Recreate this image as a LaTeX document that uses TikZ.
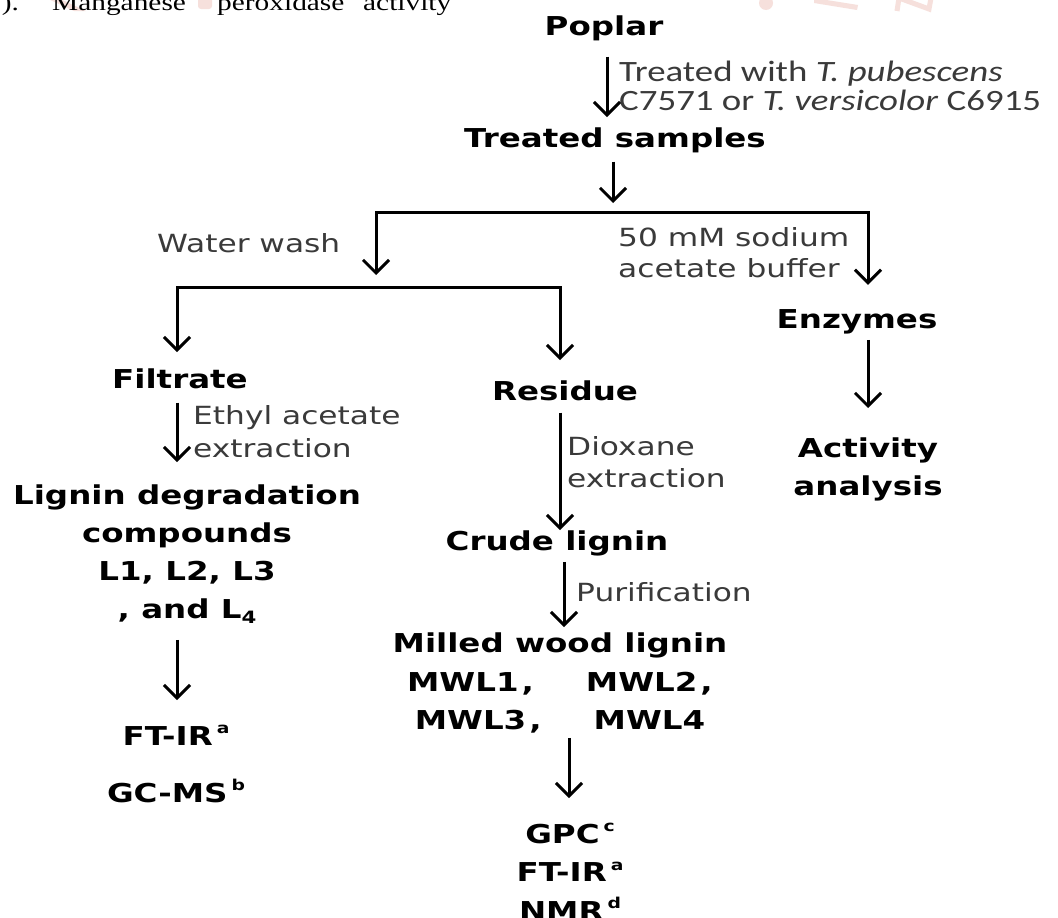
\documentclass[tikz,border=0pt]{standalone}
\usepackage{graphicx}
\usepackage{fontspec}
\setmainfont{DejaVu Sans}[FakeStretch=1.25]
\newfontfamily\calfnt{Carlito}[FakeStretch=1.25]
\newfontfamily\serfnt{Liberation Serif}
\usetikzlibrary{arrows.meta,calc}
\newcommand\supx[1]{\hspace{4pt}\raisebox{0.45em}{\fontsize{15}{15}\selectfont #1}}
\newcommand\subx[1]{\raisebox{-0.22em}{\fontsize{17}{17}\selectfont #1}}
\newcommand\wideword[2]{\makebox[#1][l]{\scalebox{1.25}[1]{#2}}}
\definecolor{wm}{RGB}{246,224,220}
\definecolor{labc}{RGB}{58,58,58}
\begin{document}
\begin{tikzpicture}[x=1pt,y=-1pt,
  stage/.style={inner sep=0pt, font=\fontsize{26}{37.7}\selectfont\bfseries, text=black},
  note/.style={inner sep=0pt, font=\fontsize{25}{32}\selectfont, text=labc, align=left},
  flow/.style={line width=3pt, -{Straight Barb[length=13pt,width=26pt]}},
  fork/.style={line width=3pt, {Straight Barb[length=13pt,width=26pt]}-{Straight Barb[length=13pt,width=26pt]}}]
\useasboundingbox (0,0) rectangle (1058,918);
\clip (0,0) rectangle (1058,918);
\fill[white] (0,0) rectangle (1058,918);

% faint watermark fragments at the top edge
\fill[wm] (46,-2) -- (58,-2) -- (86,11) -- (74,11) -- cycle;
\fill[wm, rounded corners=3pt] (198,-4) rectangle (212,9);
\fill[wm] (766,3) circle [radius=7pt];
\fill[wm] (814,-2) -- (858,5) -- (857,10) -- (814,3) -- cycle;
\draw[wm, line width=5pt] (897,11) -- (899,-2) -- (929,9) -- (931,-2);

% cut-off text line at the top
\node[anchor=base west, inner sep=0pt, font=\serfnt\fontsize{23.5}{24}\selectfont] (top) at (-13,10.5)
  {\wideword{65pt}{1).}\wideword{165pt}{Manganese}\wideword{146pt}{peroxidase}\scalebox{1.25}[1]{activity}};

% stages
\node[stage, anchor=base] (poplar) at (604,35) {Poplar};
\node[stage, anchor=base] (treated) at (615,147) {Treated samples};
\node[stage, anchor=base] (enz) at (857,328) {Enzymes};
\node[stage, anchor=north, align=center] (act) at (868,438) {Activity\\analysis};
\node[stage, anchor=base] (filt) at (180,388) {Filtrate};
\node[stage, anchor=base] (res) at (565,400) {Residue};
\node[stage, anchor=north, align=center] (lig) at (187,485)
  {Lignin degradation\\compounds\\L1, L2, L3\\, and L\subx{4}};
\node[stage, anchor=north, align=center, font=\fontsize{26}{57}\selectfont\bfseries] (tech1) at (176,725)
  {FT-IR\supx{a}\\GC-MS\supx{b}};
\node[stage, anchor=base] (crude) at (557,550) {Crude lignin};
\node[stage, anchor=north, align=center, font=\fontsize{26}{38.5}\selectfont\bfseries] (mwl) at (560,633)
  {Milled wood lignin\\MWL1\hspace{3pt},\hspace{52pt}MWL2\hspace{3pt},\\MWL3\hspace{3pt},\hspace{52pt}MWL4};
\node[stage, anchor=north, align=center, font=\fontsize{26}{38.5}\selectfont\bfseries] (tech2) at (570,823)
  {GPC\supx{c}\\FT-IR\supx{a}\\NMR\supx{d}};

% labels
\node[note, anchor=north west, font=\calfnt\fontsize{29.5}{29}\selectfont] (l1) at (619,61)
  {Treated with \textit{T. pubescens}\\C7571 or \textit{T. versicolor} C6915};
\node[note, anchor=base west] (l2) at (157,252) {Water wash};
\node[note, anchor=north west, font=\fontsize{25}{31}\selectfont] (l3) at (618,227) {50 mM sodium\\acetate buffer};
\node[note, anchor=north west, font=\fontsize{25}{33}\selectfont] (l4) at (193,405) {Ethyl acetate\\extraction};
\node[note, anchor=north west, font=\fontsize{25}{32}\selectfont] (l5) at (567,436) {Dioxane\\extraction};
\node[note, anchor=base west] (l6) at (576,601) {Purification};

% junction points
\coordinate (j1) at (613,212);
\coordinate (lb) at (376,212);
\coordinate (rb) at (868,212);
\coordinate (lt) at (376,275);
\coordinate (j2l) at (177,287);
\coordinate (j2r) at (560,287);

% connectors
\draw[flow] ($(poplar.south)+(3,16)$) -- ($(poplar.south |- treated.north)+(3,-10)$);
\draw[flow] ($(treated.south -| j1)+(0,9)$) -- ($(j1)+(0,-9)$);
\draw[fork] (lt) -- (lb) -- (rb) -- ($(rb |- enz.north)+(0,-24)$);
\draw[fork] ($(j2l |- filt.north)+(0,-16)$) -- (j2l) -- (j2r) -- ($(j2r |- res.north)+(0,-20)$);
\draw[flow] ($(enz.south -| rb)+(0,6)$) -- ($(act.north -| rb)+(0,-30)$);
\draw[flow] ($(filt.south -| j2l)+(0,14)$) -- ($(lig.north -| j2l)+(0,-23)$);
\draw[flow] ($(lig.south -| j2l)+(0,16)$) -- ($(tech1.north -| j2l)+(0,-25)$);
\draw[flow] ($(res.south -| j2r)+(0,12)$) -- ($(crude.north -| j2r)+(0,0)$);
\draw[flow] ($(crude.south)+(7,6)$) -- ($(crude.south |- mwl.north)+(7,-6)$);
\draw[flow] ($(mwl.south)+(9,4)$) -- ($(mwl.south |- tech2.north)+(9,-25)$);
\end{tikzpicture}
\end{document}
